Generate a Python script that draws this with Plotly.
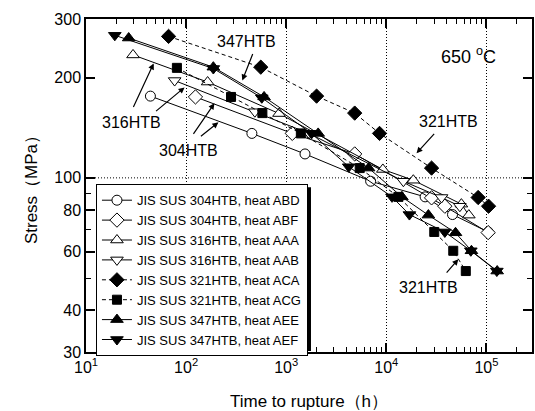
import plotly.graph_objects as go

# ---------------- data ----------------
t_abd = [44, 454, 1540, 6970, 24400, 45800, 104000]
s_abd = [176, 136, 118, 97.7, 87.7, 77.6, 68.8]

t_abf = [124, 1150, 4830, 28300, 38400, 104000]
s_abf = [175, 136, 118, 87.1, 82.2, 68.5]

t_aaa = [29.5, 164, 847, 9230, 18600, 56200, 66700]
s_aaa = [234, 194, 156, 106, 98.4, 83.4, 77.3]

t_aab = [76.8, 486, 1690, 14800, 35600, 54200]
s_aab = [196, 158, 136, 97.7, 87.3, 82.2]

t_aca = [66.8, 557, 2010, 4830, 8550, 28300, 82600, 105000]
s_aca = [266, 215, 176, 156.5, 136, 107, 87.3, 82.2]

t_acg = [80.9, 281, 578, 1400, 5420, 13200, 30100, 46600, 62200]
s_acg = [214, 175, 156.5, 136, 107, 87.7, 68.8, 60.4, 52.5]

t_aee = [26.7, 187, 601, 2085, 6650, 14300, 26300, 49100, 70800, 128000]
s_aee = [263, 215, 175, 136, 107, 87.7, 77.3, 68.4, 60.4, 52.5]

t_aef = [19.4, 187, 570, 1790, 4210, 11400, 17000, 38400, 69800, 127000]
s_aef = [268, 213, 174, 136, 108, 87.7, 77.6, 68.8, 60.4, 52.5]

names = ["JIS SUS 304HTB, heat ABD", "JIS SUS 304HTB, heat ABF",
         "JIS SUS 316HTB, heat AAA", "JIS SUS 316HTB, heat AAB",
         "JIS SUS 321HTB, heat ACA", "JIS SUS 321HTB, heat ACG",
         "JIS SUS 347HTB, heat AEE", "JIS SUS 347HTB, heat AEF"]

x_major = [10, 100, 1000, 10000, 100000]
x_major_text = ["10<sup>1</sup>", "10<sup>2</sup>", "10<sup>3</sup>", "10<sup>4</sup>", "10<sup>5</sup>"]
x_minor = [m * d for d in [10, 100, 1000, 10000, 100000] for m in range(2, 10)]
y_major = [30, 40, 60, 80, 100, 200, 300]
y_minor = [50, 70, 90]

FONT = "Liberation Sans, Arial, sans-serif"

series = [
    (t_abd, s_abd, "circle", "white", 10, "solid"),
    (t_abf, s_abf, "diamond", "white", 11, "solid"),
    (t_aaa, s_aaa, "triangle-up", "white", 11, "solid"),
    (t_aab, s_aab, "triangle-down", "white", 11, "solid"),
    (t_aca, s_aca, "diamond", "black", 11, "4px,3px"),
    (t_acg, s_acg, "square", "black", 9, "4px,3px"),
    (t_aee, s_aee, "triangle-up", "black", 11, "solid"),
    (t_aef, s_aef, "triangle-down", "black", 11, "solid"),
]

fig = go.Figure()
for (t, s, sym, fill, size, dash), nm in zip(series, names):
    fig.add_trace(go.Scatter(
        x=t, y=s, name=nm, mode="lines+markers",
        line=dict(color="black", width=1, dash=dash),
        marker=dict(symbol=sym, size=size, color=fill, line=dict(color="black", width=1)),
    ))

W, H = 535, 411
L, R, T, B = 86, 534, 18.5, 352


def px(xp):
    return (xp - L) / (R - L)


def py(yp):
    return (B - yp) / (B - T)


annotations = []
for txt, cx, cy, sz in [("347HTB", 247, 41, 16), ("316HTB", 132, 122, 16),
                        ("304HTB", 189, 150, 16), ("321HTB", 450, 121, 16),
                        ("321HTB", 430, 287, 16), ("650 <sup>o</sup>C", 470, 55, 18)]:
    annotations.append(dict(text=txt, x=px(cx), y=py(cy), xref="paper", yref="paper",
                            showarrow=False, font=dict(family=FONT, size=sz, color="black"),
                            xanchor="center", yanchor="middle"))

arrows = [((254, 52), (243, 80)), ((133, 108), (154, 63)), ((155, 112), (185, 87)),
          ((193, 135), (215, 103)), ((200, 137), (219, 122)), ((437, 132), (418, 153)),
          ((447, 274), (460, 259))]
for (tx, ty), (hx, hy) in arrows:
    annotations.append(dict(text="", x=px(hx), y=py(hy), xref="paper", yref="paper",
                            ax=tx - hx, ay=ty - hy, axref="pixel", ayref="pixel",
                            showarrow=True, arrowhead=2, arrowsize=1, arrowwidth=1.2,
                            arrowcolor="black"))

LEG_X0, LEG_Y0 = 96, 184
LEG_X1, LEG_Y1 = 309, 348   # approximate rendered legend box extent (for the drop shadow)
shapes = [
    dict(type="line", xref="paper", yref="y", x0=0, x1=1, y0=100, y1=100,
         line=dict(color="black", width=1, dash="1px,2px"), layer="below"),
    dict(type="rect", xref="paper", yref="paper",
         x0=px(LEG_X0 + 3), x1=px(LEG_X1 + 3), y0=py(LEG_Y1 + 3), y1=py(LEG_Y0 + 3),
         fillcolor="black", line=dict(width=0), layer="above"),
]

axis_common = dict(
    showline=True, linecolor="black", linewidth=1.5, mirror="allticks",
    ticks="inside", ticklen=9, tickwidth=1.5, tickcolor="black",
    tickfont=dict(family=FONT, size=16, color="black"),
    zeroline=False,
)

fig.update_layout(
    width=W, height=H,
    margin=dict(l=L, r=W - R, t=T, b=H - B, pad=0),
    paper_bgcolor="white", plot_bgcolor="white",
    font=dict(family=FONT, color="black"),
    xaxis=dict(type="log", range=[1, 5.455], tickmode="array", tickvals=x_major,
               ticktext=x_major_text, showgrid=True, gridcolor="black", gridwidth=1,
               griddash="1px,2px",
               minor=dict(tickvals=x_minor, ticks="inside", ticklen=5, tickwidth=1.2,
                          tickcolor="black", showgrid=False),
               title=dict(text="Time to rupture（h）", font=dict(family=FONT, size=17),
                          standoff=20),
               **axis_common),
    yaxis=dict(type="log", range=[1.4771, 2.4771], tickmode="array", tickvals=y_major,
               ticktext=[str(v) for v in y_major], showgrid=False,
               minor=dict(tickvals=y_minor, ticks="inside", ticklen=5, tickwidth=1.2,
                          tickcolor="black", showgrid=False),
               title=dict(text="Stress（MPa）", font=dict(family=FONT, size=17),
                          standoff=12),
               **axis_common),
    legend=dict(x=px(LEG_X0), y=py(LEG_Y0), xanchor="left", yanchor="top",
                bgcolor="white", bordercolor="black", borderwidth=1,
                font=dict(family=FONT, size=13, color="black"),
                tracegroupgap=0, itemwidth=30),
    showlegend=True,
    annotations=annotations,
    shapes=shapes,
)

fig.write_html("out.html")
